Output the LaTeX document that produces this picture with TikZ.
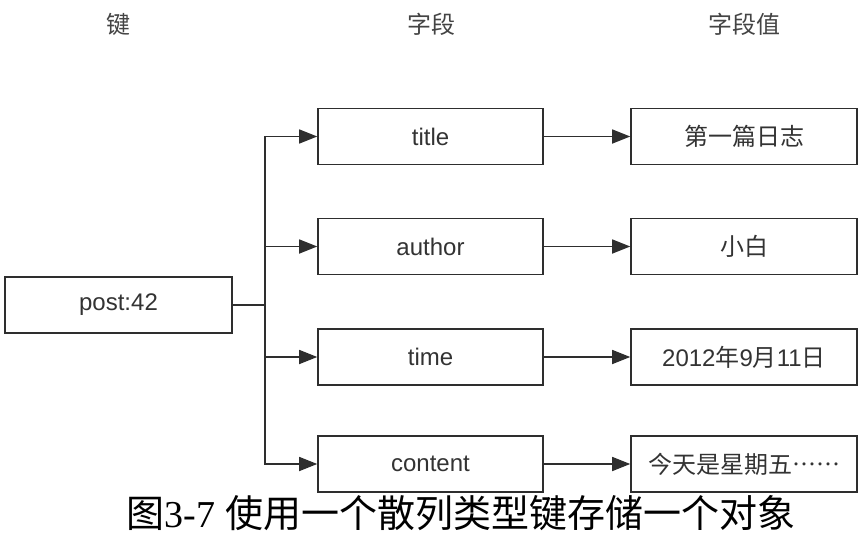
\documentclass[tikz,border=0pt]{standalone}
\usepackage{fontspec}
\setmainfont{Liberation Sans}
\newfontfamily\cjk[Language=Chinese Simplified]{Noto Sans CJK SC}
\newfontfamily\capserif{Liberation Serif}
\usetikzlibrary{arrows.meta}
\definecolor{linec}{HTML}{2E2E2E}
\definecolor{textc}{HTML}{333333}
\definecolor{headc}{HTML}{444444}
\tikzset{
  box/.style={draw=linec, line width=1.6pt, minimum height=56pt, inner sep=0pt,
    font=\fontsize{24}{26}\selectfont, text=textc},
  keybox/.style={box, minimum width=227pt},
  fieldbox/.style={box, minimum width=225pt},
  valbox/.style={box, minimum width=226pt},
  conn/.style={draw=linec, line width=1.6pt},
  arr/.style={conn, -{Triangle[length=18pt,width=14pt]}},
  head/.style={font=\cjk\fontsize{24}{26}\selectfont, text=headc, inner sep=0pt},
}
\begin{document}
\begin{tikzpicture}[x=1pt,y=-1pt]
\useasboundingbox (0,0) rectangle (868,535);
\fill[white] (0,0) rectangle (868,535);
% headers
\node[head] (hkey) at (118,24) {键};
\node[head] (hfield) at (431,24) {字段};
\node[head] (hval) at (744,24) {字段值};
% key
\node[keybox] (post) at (118.5,305) {post:42};
% fields
\node[fieldbox] (title) at (430.5,136.5) {title};
\node[fieldbox] (author) at (430.5,246.5) {author};
\node[fieldbox] (time) at (430.5,357) {time};
\node[fieldbox] (content) at (430.5,464) {content};
% values
\node[valbox] (v1) at (744,136.5) {\cjk 第一篇日志};
\node[valbox] (v2) at (744,246.5) {\cjk 小白};
\node[valbox] (v3) at (744,357) {2012{\cjk 年}9{\cjk 月}11{\cjk 日}};
\node[valbox] (v4) at (744,464) {\cjk 今天是星期五……};
% connectors
\coordinate (trunk) at (265,305);
\draw[conn] (post.east) -- (trunk);
\draw[arr] (trunk) |- (title.west);
\draw[arr] (trunk) |- (author.west);
\draw[arr] (trunk) |- (time.west);
\draw[arr] (trunk) |- (content.west);
\draw[arr] (title.east) -- (v1.west);
\draw[arr] (author.east) -- (v2.west);
\draw[arr] (time.east) -- (v3.west);
\draw[arr] (content.east) -- (v4.west);
% caption
\node[inner sep=0pt, font=\fontsize{38}{40}\selectfont] (caption) at (461,513)
  {{\cjk 图}{\capserif 3-7} {\cjk 使用一个散列类型键存储一个对象}};
\end{tikzpicture}
\end{document}
